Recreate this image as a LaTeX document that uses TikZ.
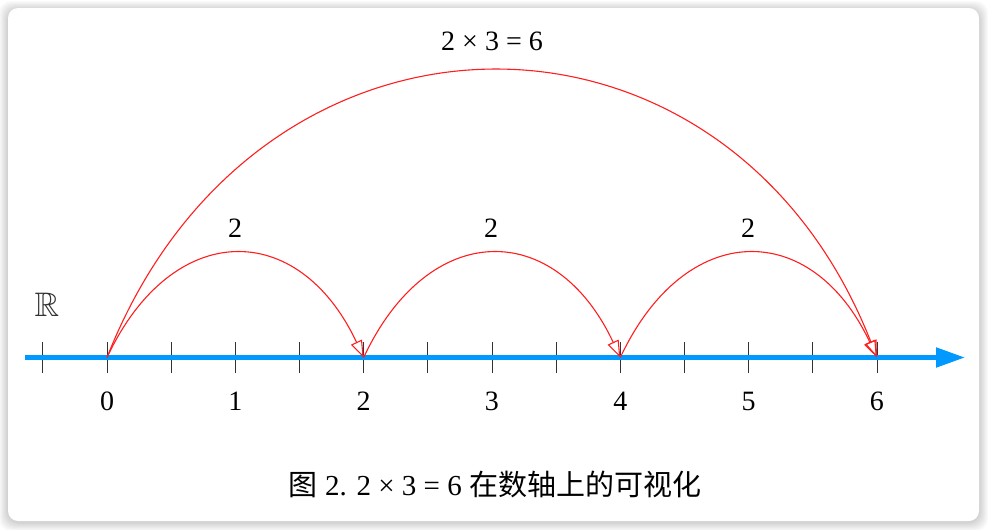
\documentclass[tikz,border=0pt]{standalone}
\usepackage{amssymb}
\usepackage{fontspec}
\setmainfont{Liberation Serif}
\newfontfamily\cjk{Noto Sans CJK SC}
\usetikzlibrary{arrows.meta}
\definecolor{axisblue}{RGB}{0,153,255}
\definecolor{arcred}{RGB}{255,30,30}
\begin{document}
\begin{tikzpicture}[x=1pt,y=-1pt,
  arcstyle/.style={draw=arcred, line width=1.1pt, -{Triangle[open,length=17pt,width=12pt]}},
  tickmark/.style={line width=1pt, draw=black!80},
  lbl/.style={font=\fontsize{28}{30}\selectfont, inner sep=0pt},
  card/.style={fill=white, rounded corners=10pt}]
\useasboundingbox (0,0) rectangle (988,530);
\fill[white] (0,0) rectangle (988,530);
% shadow
\foreach \i in {1,...,9}
  \fill[black, fill opacity=0.02, rounded corners=12pt] (8-\i,8-\i+2) rectangle (979+\i,521+\i+1);
\fill[card] (8,8) rectangle (979,521);
% ticks
\foreach \h in {-1,...,12}
  \draw[tickmark] ({107+64.167*\h},342) -- ({107+64.167*\h},373);
% axis
\coordinate (a0) at (25,357.5);
\coordinate (a1) at (965,357.5);
\draw[axisblue, line width=5pt, -{Triangle[length=29pt,width=19pt]}] (a0) -- (a1);
% points and labels
\foreach \k in {0,...,6} {
  \coordinate (p\k) at ({107+128.33*\k},357.5);
  \node[lbl] (n\k) at ({107+128.33*\k},401) {\k};
}
\node[text=black!80, font=\fontsize{34}{36}\selectfont, inner sep=0pt] (R) at (47,305) {$\mathbb{R}$};
% arcs
\draw[arcstyle] (p0) .. controls +(65,-138.7) and +(-65,-138.7) .. (p2);
\draw[arcstyle] (p2) .. controls +(65,-138.7) and +(-65,-138.7) .. (p4);
\draw[arcstyle] (p4) .. controls +(65,-138.7) and +(-65,-138.7) .. (p6);
\draw[arcstyle] (p0) .. controls +(150,-382) and +(-150,-382) .. (p6);
% arc labels
\node[lbl] (l1) at (235,228) {2};
\node[lbl] (l2) at (491,228) {2};
\node[lbl] (l3) at (748,228) {2};
\node[lbl] (top) at (492,41) {2 × 3 = 6};
% caption
\node[font=\fontsize{29}{32}\selectfont, inner sep=0pt] (cap) at (495,484) {{\cjk 图} 2. 2 × 3 = 6 {\cjk 在数轴上的可视化}};
\end{tikzpicture}
\end{document}
